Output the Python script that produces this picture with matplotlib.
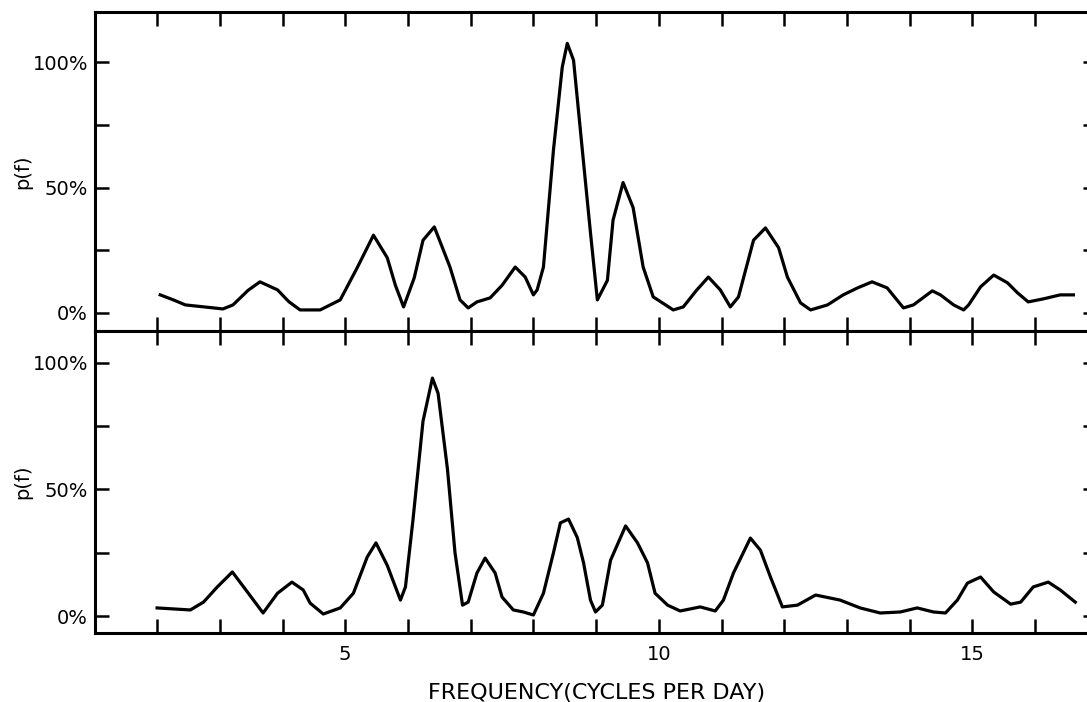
import matplotlib
matplotlib.use('Agg')
import matplotlib.pyplot as plt

# frequency (cycles per day) and p(f) in percent
freq_top = [2.05, 2.26, 2.45, 3.05, 3.21, 3.45, 3.64, 3.92, 4.1, 4.28,
            4.60, 4.92, 5.19, 5.45, 5.67, 5.80, 5.93, 6.1, 6.24, 6.42,
            6.67, 6.83, 6.96, 7.1, 7.31, 7.5, 7.71, 7.87, 8.0, 8.06,
            8.16, 8.32, 8.46, 8.54, 8.64, 8.78, 8.91, 9.02, 9.18, 9.27,
            9.43, 9.59, 9.75, 9.91, 10.23, 10.39, 10.6, 10.79, 10.98, 11.14,
            11.27, 11.51, 11.70, 11.91, 12.05, 12.26, 12.42, 12.69, 12.94, 13.17,
            13.40, 13.64, 13.9, 14.06, 14.36, 14.49, 14.7, 14.86, 14.94, 15.13,
            15.34, 15.56, 15.72, 15.89, 16.13, 16.40, 16.61]
power_top = [7.2, 5.2, 3.2, 1.6, 3.2, 9, 12.4, 9.2, 4.5, 1.2,
             1.2, 5.2, 18, 31, 22, 11, 2.4, 14, 29, 34.3,
             18.3, 5.2, 2, 4.4, 6, 11, 18.3, 14.3, 7.2, 9.2,
             18.3, 65, 98, 107.5, 100.8, 65, 32, 5.2, 13, 37,
             52, 42, 18.3, 6.4, 1.2, 2.4, 9, 14.3, 9.2, 2.4,
             6.4, 29, 33.9, 26, 14.3, 4, 1.2, 3.2, 7.2, 10,
             12.4, 10, 2, 3.2, 8.8, 7.2, 3.2, 1.2, 3.2, 10.4,
             15.1, 12, 8, 4.4, 5.6, 7.2, 7.2]

freq_bot = [2.0, 2.53, 2.74, 2.96, 3.2, 3.44, 3.69, 3.92, 4.15, 4.33,
            4.44, 4.65, 4.92, 5.13, 5.35, 5.49, 5.67, 5.88, 5.96, 6.08,
            6.24, 6.39, 6.48, 6.63, 6.75, 6.87, 6.96, 7.1, 7.23, 7.39,
            7.5, 7.68, 7.84, 8.0, 8.16, 8.32, 8.43, 8.56, 8.7, 8.8,
            8.91, 8.99, 9.1, 9.23, 9.47, 9.66, 9.82, 9.94, 10.14, 10.34,
            10.66, 10.9, 11.03, 11.19, 11.46, 11.62, 11.78, 11.97, 12.21, 12.5,
            12.89, 13.21, 13.53, 13.85, 14.12, 14.38, 14.57, 14.76, 14.92, 15.13,
            15.34, 15.61, 15.77, 15.97, 16.21, 16.40, 16.64]
power_bot = [3.2, 2.4, 5.5, 11.5, 17.4, 9.5, 1.2, 9, 13.4, 10.3,
             5.1, 0.8, 3.2, 9, 23.3, 28.9, 20, 6.3, 11.5, 38,
             77, 94, 88, 58, 25, 4.3, 5.5, 17, 22.9, 17,
             7.5, 2.4, 1.6, 0.4, 9, 25, 36.8, 38.3, 31, 21,
             6.3, 1.6, 4.3, 22, 35.6, 28.9, 21, 9, 4.3, 2,
             3.6, 2, 6.3, 17, 30.8, 26, 15.4, 3.6, 4.3, 8.3,
             6.3, 3.2, 1.2, 1.6, 3.2, 1.6, 1.2, 6.3, 13, 15.4,
             9.5, 4.7, 5.5, 11.5, 13.4, 10.3, 5.5]

x_ticks = list(range(2, 17))
x_labels = ['5' if t == 5 else '10' if t == 10 else '15' if t == 15 else '' for t in x_ticks]
y_ticks = [0, 25, 50, 75, 100]
y_labels = ['0%', '', '50%', '', '100%']


def style_panel(ax, ylim, show_xlabels):
    for s in ax.spines.values():
        s.set_linewidth(2.2)
    ax.set_xlim(1.01, 16.99)
    ax.set_ylim(*ylim)
    ax.set_xticks(x_ticks)
    ax.set_yticks(y_ticks)
    ax.set_yticklabels(y_labels, fontsize=14)
    if show_xlabels:
        ax.set_xticklabels(x_labels, fontsize=14)
    else:
        ax.set_xticklabels([])
    ax.tick_params(direction='in', length=10, width=1.8, top=True, right=True, pad=5)
    ax.tick_params(axis='x', pad=9)
    ax.set_ylabel('p(f)', fontsize=14, labelpad=0)


fig = plt.figure(figsize=(10.87, 7.02), dpi=100)
ax1 = fig.add_axes([0.0874, 0.5285, 0.922, 0.4544])
ax2 = fig.add_axes([0.0874, 0.0983, 0.922, 0.4302])

ax1.plot(freq_top, power_top, color='black', lw=2.3, solid_joinstyle='round')
ax2.plot(freq_bot, power_bot, color='black', lw=2.3, solid_joinstyle='round')

style_panel(ax1, (-7.2, 120), False)
style_panel(ax2, (-6.7, 112.6), True)
ax2.set_xlabel('FREQUENCY(CYCLES PER DAY)', fontsize=16, labelpad=13)

fig.savefig('out.png', dpi=100)
